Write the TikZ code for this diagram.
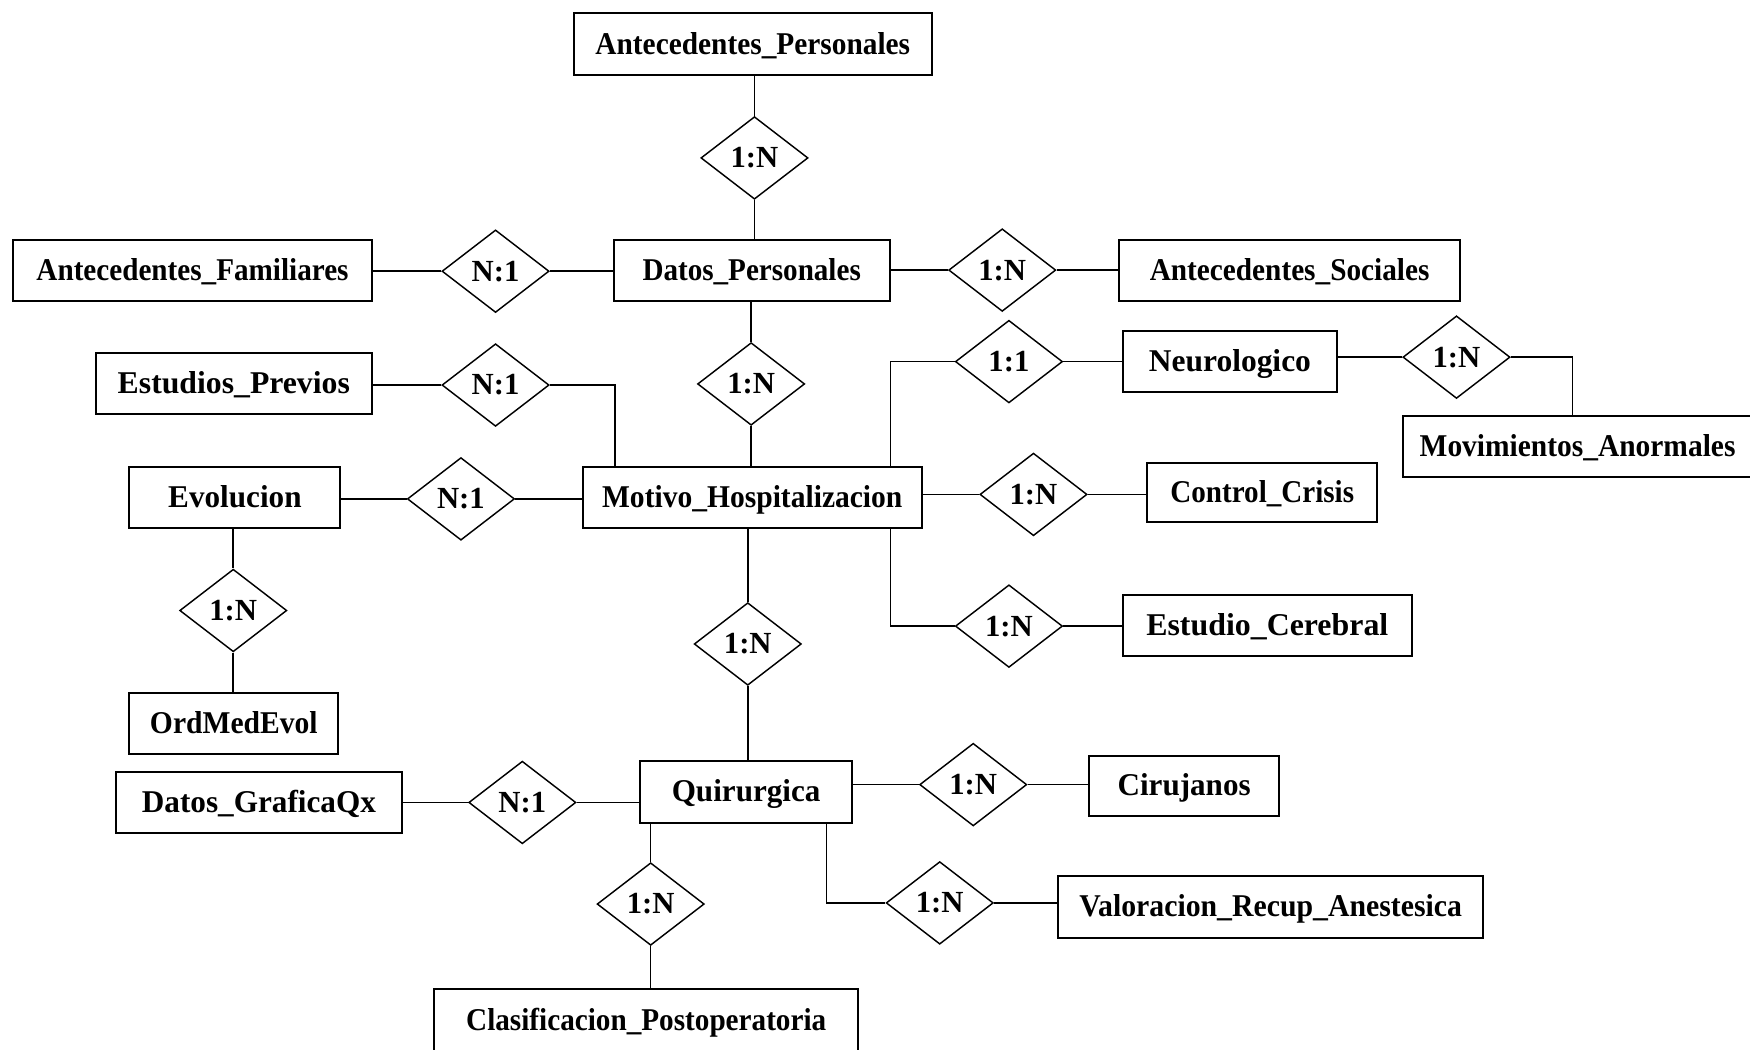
\documentclass[tikz,border=0pt]{standalone}
\usepackage{graphicx}
\usepackage{fontspec}
\setmainfont{Liberation Serif}
\usetikzlibrary{shapes.geometric}
\newcommand\fw[2]{\resizebox{#1pt}{\height}{#2}}
\begin{document}
\begin{tikzpicture}[x=1pt,y=-1pt,
 ent/.style={draw, line width=1.8pt, inner sep=0pt, text height=19pt, text depth=1pt, font=\fontsize{28.4}{32}\selectfont\bfseries, align=center},
 rel/.style={diamond, draw, line width=1.3pt, inner sep=0pt, minimum width=96pt, minimum height=74pt, font=\fontsize{27.5}{31}\selectfont\bfseries},
 conn/.style={line width=1.4pt}]
\useasboundingbox (0,0) rectangle (1568,940);
% entities
\node[ent, minimum width=321pt, minimum height=55pt] (ap) at (674.5,39.5) {\fw{282}{Antecedentes\_Personales}};
\node[ent, minimum width=247pt, minimum height=55pt] (dp) at (673.5,242.5) {\fw{195.6}{Datos\_Personales}};
\node[ent, minimum width=321pt, minimum height=55pt] (af) at (172.5,242.5) {\fw{279.6}{Antecedentes\_Familiares}};
\node[ent, minimum width=305pt, minimum height=55pt] (as) at (1155.5,242.5) {\fw{250.5}{Antecedentes\_Sociales}};
\node[ent, minimum width=247pt, minimum height=55pt] (ep) at (209.5,343.5) {\fw{208}{Estudios\_Previos}};
\node[ent, minimum width=304pt, minimum height=55pt] (mh) at (674,446) {\fw{269}{Motivo\_Hospitalizacion}};
\node[ent, minimum width=189pt, minimum height=55pt] (ev) at (210.5,446) {\fw{119.5}{Evolucion}};
\node[ent, minimum width=191pt, minimum height=55pt] (ne) at (1102,324) {\fw{145.2}{Neurologico}};
\node[ent, minimum width=313pt, minimum height=54pt] (ma) at (1413.5,400) {\fw{282.9}{Movimientos\_Anormales}};
\node[ent, minimum width=206pt, minimum height=53pt] (cc) at (1131,441.5) {\fw{164.6}{Control\_Crisis}};
\node[ent, minimum width=259pt, minimum height=55pt] (ec) at (1135.5,560.5) {\fw{216.8}{Estudio\_Cerebral}};
\node[ent, minimum width=187pt, minimum height=55pt] (om) at (209.5,648.5) {\fw{150.2}{OrdMedEvol}};
\node[ent, minimum width=256pt, minimum height=54pt] (dg) at (232,719) {\fw{209.7}{Datos\_GraficaQx}};
\node[ent, minimum width=190pt, minimum height=55pt] (qu) at (668.5,709.5) {\fw{133.2}{Quirurgica}};
\node[ent, minimum width=170pt, minimum height=54pt] (ci) at (1061,704) {\fw{119.2}{Cirujanos}};
\node[ent, minimum width=381pt, minimum height=55pt] (vr) at (1138.5,812.5) {\fw{342.8}{Valoracion\_Recup\_Anestesica}};
\node[ent, minimum width=380pt, minimum height=56pt] (cp) at (579,914) {\fw{322.6}{Clasificacion\_Postoperatoria}};
% relationships
\node[rel] (d1) at (676,141.5) {1:N};
\node[rel] (d2) at (444,243) {N:1};
\node[rel] (d3) at (898,242) {1:N};
\node[rel] (d4) at (673,344) {1:N};
\node[rel] (d5) at (444,345) {N:1};
\node[rel] (d6) at (904,324) {1:1};
\node[rel] (d7) at (1305,320) {1:N};
\node[rel] (d8) at (413,447) {N:1};
\node[rel] (d9) at (926,443) {1:N};
\node[rel] (d10) at (904,561) {1:N};
\node[rel] (d11) at (209,547) {1:N};
\node[rel] (d12) at (670,577) {1:N};
\node[rel] (d13) at (468,719) {N:1};
\node[rel] (d14) at (872,703) {1:N};
\node[rel] (d15) at (842,809) {1:N};
\node[rel] (d16) at (583,810) {1:N};
% connectors
\draw[conn] (d1.north) -- (d1.north |- ap.south);
\draw[conn] (d1.south) -- (d1.south |- dp.north);
\draw[conn] (d2.west) -- (d2.west -| af.east);
\draw[conn] (d2.east) -- (d2.east -| dp.west);
\draw[conn] (d3.west) -- (d3.west -| dp.east);
\draw[conn] (d3.east) -- (d3.east -| as.west);
\draw[conn] (d4.north) -- (d4.north |- dp.south);
\draw[conn] (d4.south) -- (d4.south |- mh.north);
\draw[conn] (d5.west) -- (d5.west -| ep.east);
\draw[conn] (d5.east) -| ([xshift=30pt]mh.north west);
\draw[conn] ([xshift=-29pt]mh.north east) |- (d6.west);
\draw[conn] (d6.east) -- (d6.east -| ne.west);
\draw[conn] (d7.west) -- (d7.west -| ne.east);
\draw[conn] (d7.east) -| ([xshift=153pt]ma.north west);
\draw[conn] (d8.west) -- (d8.west -| ev.east);
\draw[conn] (d8.east) -- (d8.east -| mh.west);
\draw[conn] (d9.west) -- (d9.west -| mh.east);
\draw[conn] (d9.east) -- (d9.east -| cc.west);
\draw[conn] ([xshift=-29pt]mh.south east) |- (d10.west);
\draw[conn] (d10.east) -- (d10.east -| ec.west);
\draw[conn] (d11.north) -- (d11.north |- ev.south);
\draw[conn] (d11.south) -- (d11.south |- om.north);
\draw[conn] (d12.north) -- (d12.north |- mh.south);
\draw[conn] (d12.south) -- (d12.south |- qu.north);
\draw[conn] (d13.west) -- (d13.west -| dg.east);
\draw[conn] (d13.east) -- (d13.east -| qu.west);
\draw[conn] (d14.west) -- (d14.west -| qu.east);
\draw[conn] (d14.east) -- (d14.east -| ci.west);
\draw[conn] ([xshift=-24pt]qu.south east) |- (d15.west);
\draw[conn] (d15.east) -- (d15.east -| vr.west);
\draw[conn] (d16.north) -- (d16.north |- qu.south);
\draw[conn] (d16.south) -- (d16.south |- cp.north);
\end{tikzpicture}
\end{document}
